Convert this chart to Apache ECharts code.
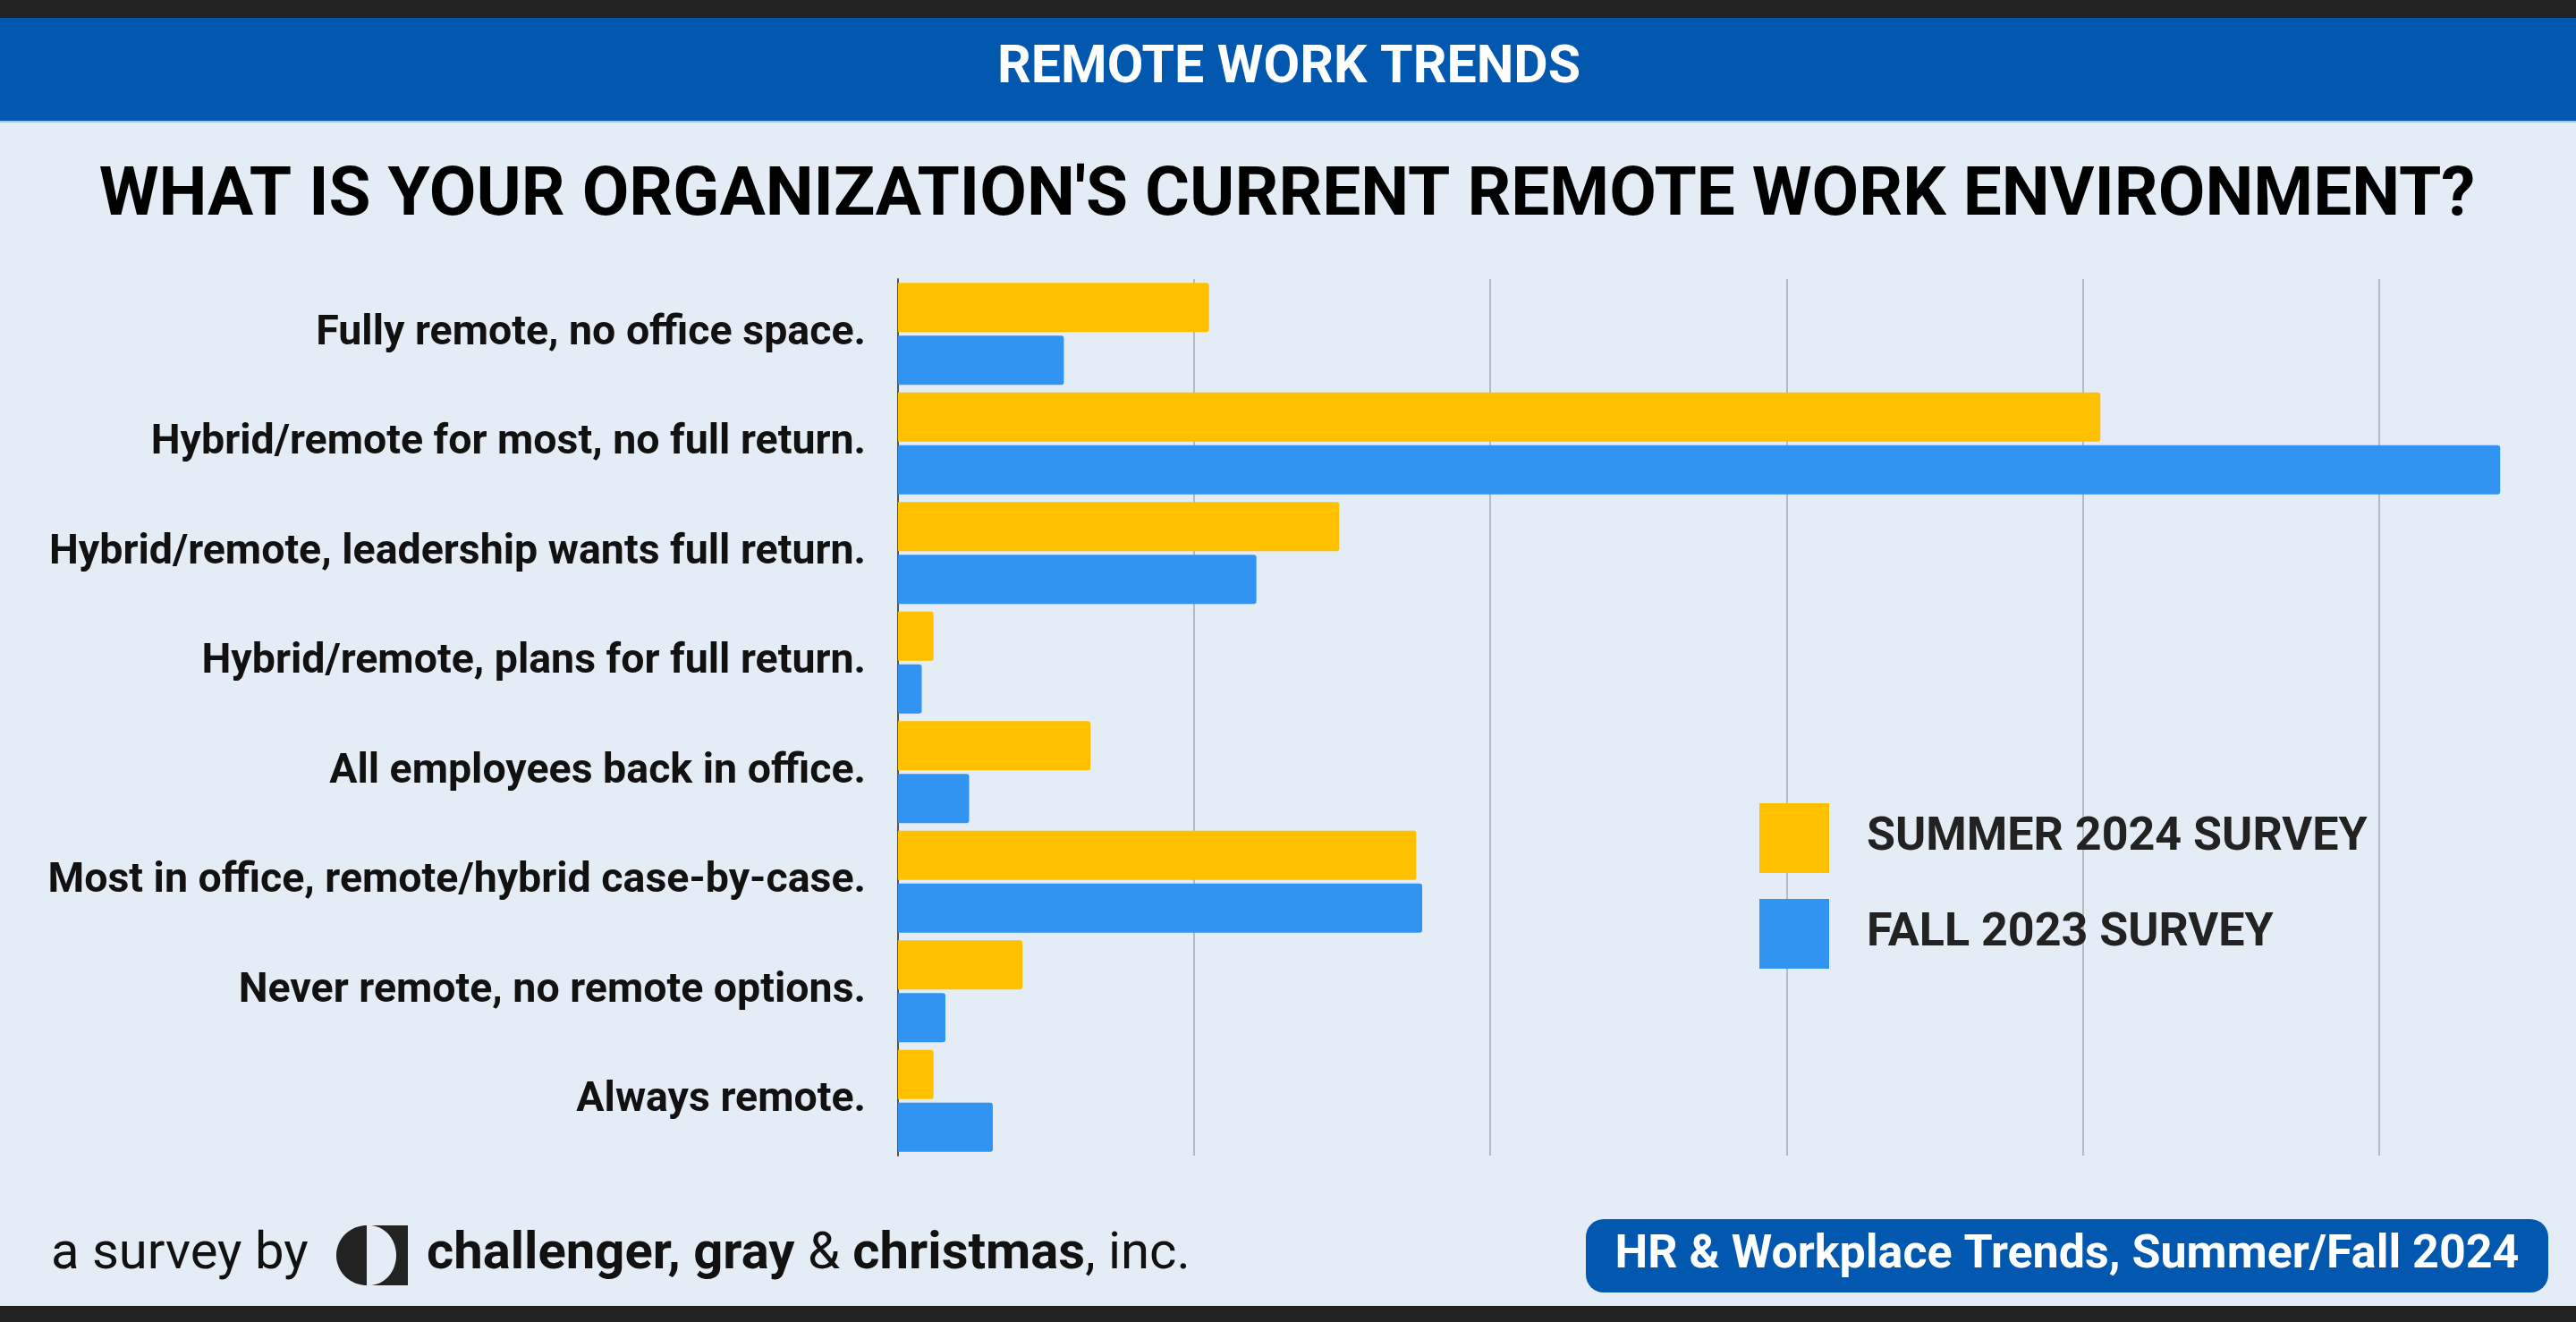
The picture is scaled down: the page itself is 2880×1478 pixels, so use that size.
<!DOCTYPE html>
<html>
<head>
<meta charset="utf-8">
<script src="https://cdn.jsdelivr.net/npm/echarts@6/dist/echarts.min.js"></script>
<style>
html,body{margin:0;padding:0;background:#E4ECF6;}
#chart{width:2880px;height:1478px;}
</style>
</head>
<body>
<div id="chart"></div>
<script>
const categories = [
  'Fully remote, no office space.',
  'Hybrid/remote for most, no full return.',
  'Hybrid/remote, leadership wants full return.',
  'Hybrid/remote, plans for full return.',
  'All employees back in office.',
  'Most in office, remote/hybrid case-by-case.',
  'Never remote, no remote options.',
  'Always remote.'
];
const summer2024 = [10.5, 40.6, 14.9, 1.2, 6.5, 17.5, 4.2, 1.2];
const fall2023 = [5.6, 54.1, 12.1, 0.8, 2.4, 17.7, 1.6, 3.2];
const seriesNames = ['SUMMER 2024 SURVEY', 'FALL 2023 SURVEY'];
const bannerText = 'REMOTE WORK TRENDS';
const titleText = "WHAT IS YOUR ORGANIZATION'S CURRENT REMOTE WORK ENVIRONMENT?";
const footerLeft = 'a survey by';
const footerBadge = 'HR & Workplace Trends, Summer/Fall 2024';

const BLUE = '#0258AE';
const BG = '#E4ECF6';
const FONT = 'Roboto';

// logo shapes (decorative)
function halfEllipse(cx, cy, rx, ry, a0, a1, n) {
  const pts = [];
  for (let i = 0; i <= n; i++) {
    const a = (a0 + (a1 - a0) * i / n) * Math.PI / 180;
    pts.push([cx + rx * Math.cos(a), cy + ry * Math.sin(a)]);
  }
  return pts;
}
const logoLeft = halfEllipse(410, 1403.5, 34, 33.5, -90, -270, 40);
const logoRight = [[413, 1370], [456, 1370], [456, 1437], [413, 1437]].concat(halfEllipse(413, 1403.5, 30, 33.5, 90, -90, 40));

const chart = echarts.init(document.getElementById('chart'));
chart.setOption({
  backgroundColor: BG,
  animation: false,
  textStyle: { fontFamily: FONT },
  grid: { left: 1004, right: 55, top: 312, height: 980, containLabel: false },
  xAxis: {
    type: 'value', min: 0, max: 55, interval: 10,
    axisLabel: { show: false },
    axisLine: { show: false },
    axisTick: { show: false },
    splitLine: { show: true, showMinLine: false, showMaxLine: false, lineStyle: { color: '#B3BBC7', width: 2 } }
  },
  yAxis: {
    type: 'category', inverse: true, data: categories,
    axisLine: { show: true, lineStyle: { color: '#555555', width: 2 } },
    axisTick: { show: false },
    axisLabel: { margin: 36, fontSize: 46.5, fontWeight: 'bold', color: '#111111', fontFamily: FONT }
  },
  legend: {
    orient: 'vertical', left: 1967, top: 898, padding: 0,
    itemWidth: 78, itemHeight: 78, itemGap: 29,
    icon: 'rect',
    textStyle: { fontSize: 52, fontWeight: 'bold', color: '#222222', fontFamily: FONT, padding: [0, 0, 0, 37] },
    data: seriesNames
  },
  series: [
    { name: seriesNames[0], type: 'bar', data: summer2024, barWidth: 55, barGap: '7%',
      itemStyle: { color: '#FFC000', borderRadius: [0, 3, 3, 0] } },
    { name: seriesNames[1], type: 'bar', data: fall2023, barWidth: 55, barGap: '7%',
      itemStyle: { color: '#3193F2', borderRadius: [0, 3, 3, 0] } }
  ],
  graphic: [
    { type: 'rect', left: 0, top: 0, shape: { width: 2880, height: 20 }, style: { fill: '#222222' }, silent: true },
    { type: 'rect', left: 0, top: 20, shape: { width: 2880, height: 115 }, style: { fill: BLUE }, silent: true },
    { type: 'rect', left: 0, top: 135, shape: { width: 2880, height: 2 }, style: { fill: '#A7C4E8' }, silent: true },
    { type: 'rect', left: 0, top: 1460, shape: { width: 2880, height: 18 }, style: { fill: '#222222' }, silent: true },
    { type: 'text', x: 1441, y: 77, style: { text: bannerText, fill: '#FFFFFF', font: 'bold 59px Roboto', align: 'center', verticalAlign: 'middle' } },
    { type: 'text', x: 1439, y: 221, style: { text: titleText, fill: '#000000', font: 'bold 76.4px Roboto', align: 'center', verticalAlign: 'middle' } },
    { type: 'text', x: 57, y: 1403, style: { text: footerLeft, fill: '#111111', font: '58px Roboto', align: 'left', verticalAlign: 'middle' } },
    { type: 'polygon', shape: { points: logoLeft }, style: { fill: '#222222' } },
    { type: 'polygon', shape: { points: logoRight }, style: { fill: '#222222' } },
    { type: 'text', x: 477, y: 1403, style: {
        text: '{b|challenger, gray }{r|& }{b|christmas}{r|, inc.}',
        verticalAlign: 'middle', align: 'left',
        rich: {
          b: { fontFamily: FONT, fontSize: 58, fontWeight: 'bold', fill: '#111111' },
          r: { fontFamily: FONT, fontSize: 58, fontWeight: 'normal', fill: '#111111' }
        }
    } },
    { type: 'rect', x: 1773, y: 1363, shape: { width: 1076, height: 82, r: 20 }, style: { fill: BLUE } },
    { type: 'text', x: 2311, y: 1404, style: { text: footerBadge, fill: '#FFFFFF', font: 'bold 52px Roboto', align: 'center', verticalAlign: 'middle' } }
  ]
});
</script>
</body>
</html>
